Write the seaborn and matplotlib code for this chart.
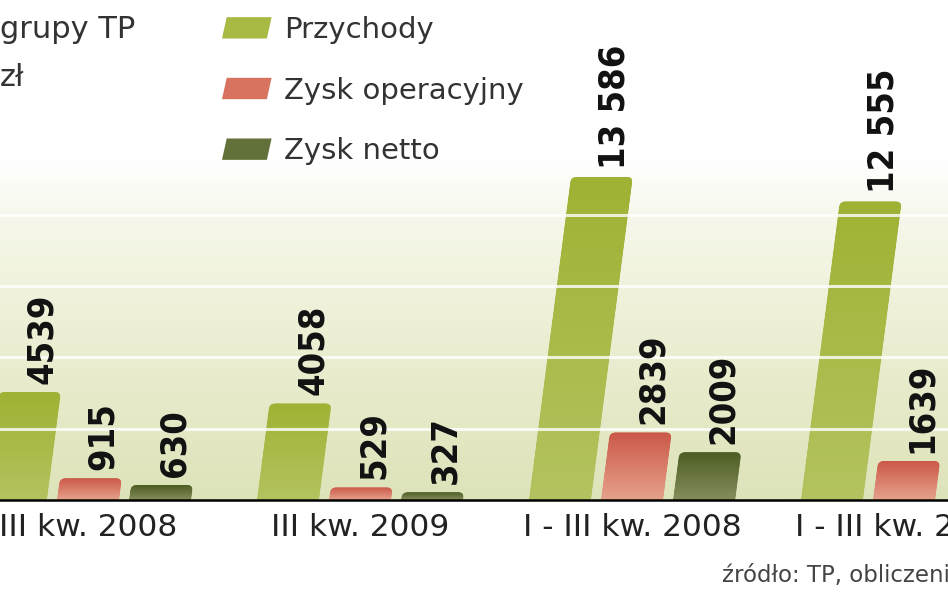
import numpy as np
import pandas as pd
import matplotlib
matplotlib.use("Agg")
import matplotlib.pyplot as plt
from matplotlib import font_manager
from matplotlib.font_manager import FontProperties
from matplotlib.transforms import Affine2D
from matplotlib.path import Path
from matplotlib.patches import PathPatch, Polygon, Rectangle
from matplotlib.legend_handler import HandlerPatch
import seaborn as sns

# ---------------- data ----------------
okresy = ["III kw. 2008", "III kw. 2009", "I - III kw. 2008", "I - III kw. 2009"]
serie = ["Przychody", "Zysk operacyjny", "Zysk netto"]
przychody = [4539, 4058, 13586, 12555]
zysk_operacyjny = [915, 529, 2839, 1639]
zysk_netto = [630, 327, 2009, np.nan]   # last value lies outside the visible crop
siatka = [3000, 6000, 9000, 12000, 15000]

tytul = "grupy TP"
jednostka = "zł"
zrodlo = "źródło: TP, obliczenia"

# ---------------- styling ----------------
kolory_gora = {"Przychody": (160, 178, 52), "Zysk operacyjny": (203, 88, 72), "Zysk netto": (78, 93, 36)}
kolory_dol = {"Przychody": (180, 195, 95), "Zysk operacyjny": (230, 162, 140), "Zysk netto": (132, 142, 92)}
paleta = {"Przychody": "#a8b944", "Zysk operacyjny": "#d7735f", "Zysk netto": "#62703a"}

df = pd.DataFrame({
    "okres": okresy * 3,
    "seria": [s for s in serie for _ in okresy],
    "wartosc": przychody + zysk_operacyjny + zysk_netto,
})

# pick a condensed bold face for the value labels if one is installed
val_fp = None
for f in font_manager.fontManager.ttflist:
    fn = f.fname.lower()
    if ("narrow" in fn or "condensed" in fn) and ("bold" in fn) and ("italic" not in fn) and ("oblique" not in fn):
        if "liberation" in fn or "dejavusans" in fn.replace(" ", "").replace("-", ""):
            val_fp = FontProperties(fname=f.fname, size=30 if "narrow" in fn else 26)
            if "narrow" in fn:
                break
if val_fp is None:
    val_fp = FontProperties(family="DejaVu Sans", weight="bold", size=23)

W, H = 948, 593
fig = plt.figure(figsize=(W / 100, H / 100), dpi=100)
base_px = 500
ax = fig.add_axes([0, (H - base_px) / H, 1, base_px / H])

sns.barplot(data=df, x="okres", y="wartosc", hue="seria", order=okresy, hue_order=serie,
            palette=paleta, saturation=1, width=0.795, gap=0.14, ax=ax, errorbar=None)

XL = (-88 / 272, 3 + 44 / 272)
YL = (0, 21030)
ax.set_xlim(*XL)
ax.set_ylim(*YL)
ax.set_xlabel("")
ax.set_ylabel("")
ax.set_yticks(siatka)
ax.tick_params(axis="y", length=0, labelleft=False)
ax.tick_params(axis="x", length=0, pad=9, labelsize=22.5, labelcolor="#222222")
ax.grid(axis="y", color="white", lw=2.2, alpha=0.8)
ax.grid(axis="x", visible=False)
ax.set_axisbelow(False)
for s in ["left", "right", "top"]:
    ax.spines[s].set_visible(False)
ax.spines["bottom"].set_color("black")
ax.spines["bottom"].set_linewidth(1.8)
ax.spines["bottom"].set_zorder(3)
ax.set_facecolor("white")

# background gradient (white at top, pale green at baseline)
stops_f = [0.0, 0.14, 0.28, 0.42, 0.56, 0.68, 1.0]
stops_c = [(221, 227, 185), (228, 232, 196), (234, 237, 207), (240, 242, 220),
           (246, 247, 234), (255, 255, 255), (255, 255, 255)]
fr = np.linspace(0, 1, 400)
bg = np.stack([np.interp(fr, stops_f, [c[i] for c in stops_c]) for i in range(3)], axis=-1) / 255
bg = bg[::-1][:, None, :]
ax.imshow(bg, extent=(0, 1, 0, 1), transform=ax.transAxes, aspect="auto", zorder=0,
          interpolation="bilinear")
ax.set_xlim(*XL)
ax.set_ylim(*YL)

# slanted bars: shear in display space around the baseline
y0 = ax.transData.transform((0, 0))[1]
k = 0.13
shear = Affine2D().translate(0, -y0).skew(np.arctan(k), 0).translate(0, y0)
trans = ax.transData + shear

# corner radius (6 px) expressed in data units
px_x = ax.transData.transform((1, 0))[0] - ax.transData.transform((0, 0))[0]
px_y = ax.transData.transform((0, 1000))[1] - ax.transData.transform((0, 0))[1]
rx = 6 / px_x
ry_full = 6 / px_y * 1000


def rounded_top(x0, x1, h):
    ry = min(ry_full, h * 0.8)
    verts = [(x0, 0), (x0, h - ry), (x0, h), (x0 + rx, h), (x1 - rx, h), (x1, h), (x1, h - ry),
             (x1, 0), (x0, 0)]
    codes = [Path.MOVETO, Path.LINETO, Path.CURVE3, Path.CURVE3, Path.LINETO, Path.CURVE3,
             Path.CURVE3, Path.LINETO, Path.CLOSEPOLY]
    return PathPatch(Path(verts, codes), transform=trans)


for cont, s in zip(ax.containers, serie):
    top = np.array(kolory_gora[s]) / 255
    bot = np.array(kolory_dol[s]) / 255
    t = np.linspace(0, 1, 100)[:, None]
    rgb = top * (1 - t) + bot * t
    grad = np.concatenate([rgb, np.ones((100, 1))], axis=1)[:, None, :]
    for p in cont.patches:
        h = p.get_height()
        if not np.isfinite(h) or h <= 0:
            continue
        x0, w = p.get_x(), p.get_width()
        p.set_transform(trans)
        p.set_zorder(1)
        clip = rounded_top(x0, x0 + w, h)
        p.set_clip_path(clip)
        im = ax.imshow(grad, extent=(x0, x0 + w, 0, h), origin="upper", transform=trans,
                       aspect="auto", zorder=1.5, interpolation="bilinear")
        im.set_clip_path(clip)
        lab = f"{int(h):,}".replace(",", " ") if h >= 10000 else f"{int(h)}"
        ax.annotate(lab, xy=(x0 + w / 2, h), xycoords=trans, xytext=(9, 6),
                    textcoords="offset points", rotation=90, ha="center", va="bottom",
                    fontproperties=val_fp, color="#111111", zorder=4, annotation_clip=False)

ax.set_xlim(*XL)
ax.set_ylim(*YL)
ax.set_aspect("auto")


def slanted_swatch(legend, orig_handle, xdescent, ydescent, width, height, fontsize):
    sl = height * 0.22
    pts = [(-xdescent, -ydescent), (-xdescent + width - sl, -ydescent),
           (-xdescent + width, -ydescent + height), (-xdescent + sl, -ydescent + height)]
    return Polygon(pts, closed=True, joinstyle="round", linewidth=1.5)


sns.move_legend(ax, "upper left", bbox_to_anchor=(222 / W, 1 - 16 / H), bbox_transform=fig.transFigure,
                frameon=False, title=None, fontsize=21, handlelength=1.7, handleheight=0.75,
                handletextpad=0.42, labelspacing=1.12, borderpad=0, borderaxespad=0,
                labelcolor="#333333",
                handler_map={Rectangle: HandlerPatch(patch_func=slanted_swatch)})

fig.text(0, 1 - 38 / H, tytul, fontsize=22, ha="left", va="baseline", color="#333333")
fig.text(0, 1 - 86 / H, jednostka, fontsize=22, ha="left", va="baseline", color="#333333")
fig.text(722 / W, 1 - 582 / H, zrodlo, fontsize=16.5, ha="left", va="baseline", color="#444444")

fig.savefig("out.png", dpi=100, facecolor="white")
